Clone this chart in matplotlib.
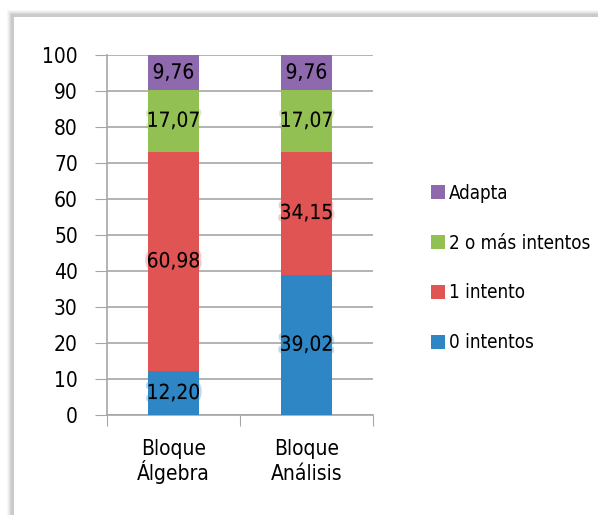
import matplotlib.pyplot as plt
from matplotlib.patches import Rectangle
import matplotlib.transforms as mtransforms
import matplotlib.patheffects as pe

# data
categories = ["Bloque\nÁlgebra", "Bloque\nAnálisis"]
series = ["0 intentos", "1 intento", "2 o más intentos", "Adapta"]
values = {
    "0 intentos": [12.20, 39.02],
    "1 intento": [60.98, 34.15],
    "2 o más intentos": [17.07, 17.07],
    "Adapta": [9.76, 9.76],
}
colors = {
    "0 intentos": "#2e86c4",
    "1 intento": "#e05454",
    "2 o más intentos": "#93c052",
    "Adapta": "#8f69ae",
}
yticks = [0, 10, 20, 30, 40, 50, 60, 70, 80, 90, 100]

plt.rcParams["font.family"] = ["DejaVu Sans"]
plt.rcParams["font.stretch"] = "condensed"

fig = plt.figure(figsize=(5.98, 5.15), dpi=100)
fig.patch.set_facecolor("white")

# framed panel with soft shadow
W, H = 598, 515
for i, c in enumerate(["#f7f7f7", "#eeeeee", "#e3e3e3", "#d6d6d6", "#cacaca"]):
    off = 5 - i
    fig.patches.append(Rectangle(((12 - off) / W, 0), 1, (H - 15 + off) / H,
                                 transform=fig.transFigure, facecolor=c,
                                 edgecolor="none", zorder=-2))
fig.patches.append(Rectangle((14 / W, 0), 1, (H - 17) / H,
                             transform=fig.transFigure, facecolor="white",
                             edgecolor="none", zorder=-1))

ax = fig.add_axes([107 / W, 1 - 415 / H, (373 - 107) / W, (415 - 55) / H])
ax.set_facecolor("none")
ax.set_zorder(5)

x = [0, 1]
bottom = [0, 0]
for s in series:
    vals = values[s]
    ax.bar(x, vals, width=0.39, bottom=bottom, color=colors[s], zorder=3, label=s)
    for xi, v, b in zip(x, vals, bottom):
        t = ax.text(xi, b + v / 2, f"{v:.2f}".replace(".", ","), ha="center", va="center",
                    fontsize=15, color="black", zorder=4)
        t.set_path_effects([pe.withStroke(linewidth=4, foreground=colors[s], alpha=0.3)])
    bottom = [b + v for b, v in zip(bottom, vals)]

ax.set_xlim(-0.5, 1.5)
ax.set_ylim(0, 100)
ax.set_yticks(yticks)
ax.set_yticklabels([str(t) for t in yticks], fontsize=15)
ax.yaxis.grid(True, color="#a6a6a6", linewidth=1.2, zorder=1)
ax.set_xticks([-0.5, 0.5, 1.5])
ax.set_xticklabels(["", "", ""])
ax.tick_params(axis="x", which="major", length=8, color="#a6a6a6", direction="out")
ax.tick_params(axis="y", length=9, color="#a6a6a6", pad=12)
for sp in ["top", "right"]:
    ax.spines[sp].set_visible(False)
for sp in ["left", "bottom"]:
    ax.spines[sp].set_color("#a6a6a6")
    ax.spines[sp].set_linewidth(1.2)

# category labels, one line at a time so both share baselines
trans = mtransforms.blended_transform_factory(ax.transData, fig.transFigure)
for xi, cat in zip(x, categories):
    for k, line in enumerate(cat.split("\n")):
        ax.text(xi, 1 - (455 + 25 * k) / H, line, transform=trans, ha="center",
                va="baseline", fontsize=15, clip_on=False)

handles, labels = ax.get_legend_handles_labels()
leg = fig.legend(handles[::-1], labels[::-1], loc="center left",
                 bbox_to_anchor=(414 / W, 1 - 268 / H), frameon=False, fontsize=13.5,
                 handlelength=0.75, handleheight=0.75, handletextpad=0.2, labelspacing=1.65)
leg.set_zorder(6)

fig.savefig("out.png", dpi=100)
